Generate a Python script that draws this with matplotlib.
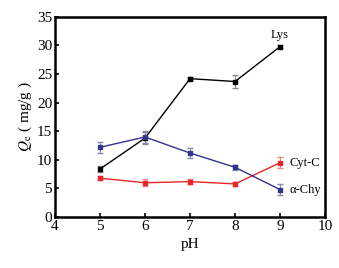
import numpy as np
import matplotlib
matplotlib.use('Agg')
import matplotlib.pyplot as plt

plt.rcParams['font.family'] = ['Liberation Serif', 'DejaVu Serif']
plt.rcParams['mathtext.fontset'] = 'stix'

# data
ph = [5, 6, 7, 8, 9]
lys = [8.4, 13.8, 24.2, 23.7, 29.8]
lys_err = [0.6, 1.0, 0.3, 1.1, 0.3]
cytc = [6.8, 6.0, 6.2, 5.8, 9.5]
cytc_err = [0.3, 0.6, 0.4, 0.3, 1.0]
achy = [12.2, 14.0, 11.2, 8.7, 4.8]
achy_err = [1.0, 1.0, 0.9, 0.4, 1.0]

fig = plt.figure(figsize=(3.39, 2.68), dpi=100)
ax = fig.add_axes([0.162, 0.19, 0.797, 0.747])

ax.errorbar(ph, lys, yerr=lys_err, color='black', marker='s', ms=3.5, lw=1.0,
            ecolor='#888888', elinewidth=0.8, capsize=2)
ax.errorbar(ph, cytc, yerr=cytc_err, color='#e8252a', marker='s', ms=3.5, lw=1.0,
            ecolor='#e88888', elinewidth=0.8, capsize=2)
ax.errorbar(ph, achy, yerr=achy_err, color='#34348e', marker='s', ms=3.5, lw=1.0,
            ecolor='#8888aa', elinewidth=0.8, capsize=2)

ax.text(9, lys[-1] + 1.0, 'Lys', ha='center', va='bottom', fontsize=9)
ax.text(9.2, cytc[-1], 'Cyt-C', ha='left', va='center', fontsize=9)
ax.text(9.2, achy[-1], 'α-Chy', ha='left', va='center', fontsize=9)

ax.set_xlim(4, 10)
ax.set_ylim(0, 35)
ax.set_xticks(range(4, 11))
ax.set_yticks(range(0, 36, 5))
ax.tick_params(direction='in', labelsize=11, length=3, width=1.2, pad=2)
for s in ax.spines.values():
    s.set_linewidth(1.8)

ax.set_xlabel('pH', fontsize=11, labelpad=4)
ax.set_ylabel(r'$Q_{\mathrm{e}}$ ( mg/g )', fontsize=11, labelpad=2)

fig.savefig('out.png', dpi=100)
